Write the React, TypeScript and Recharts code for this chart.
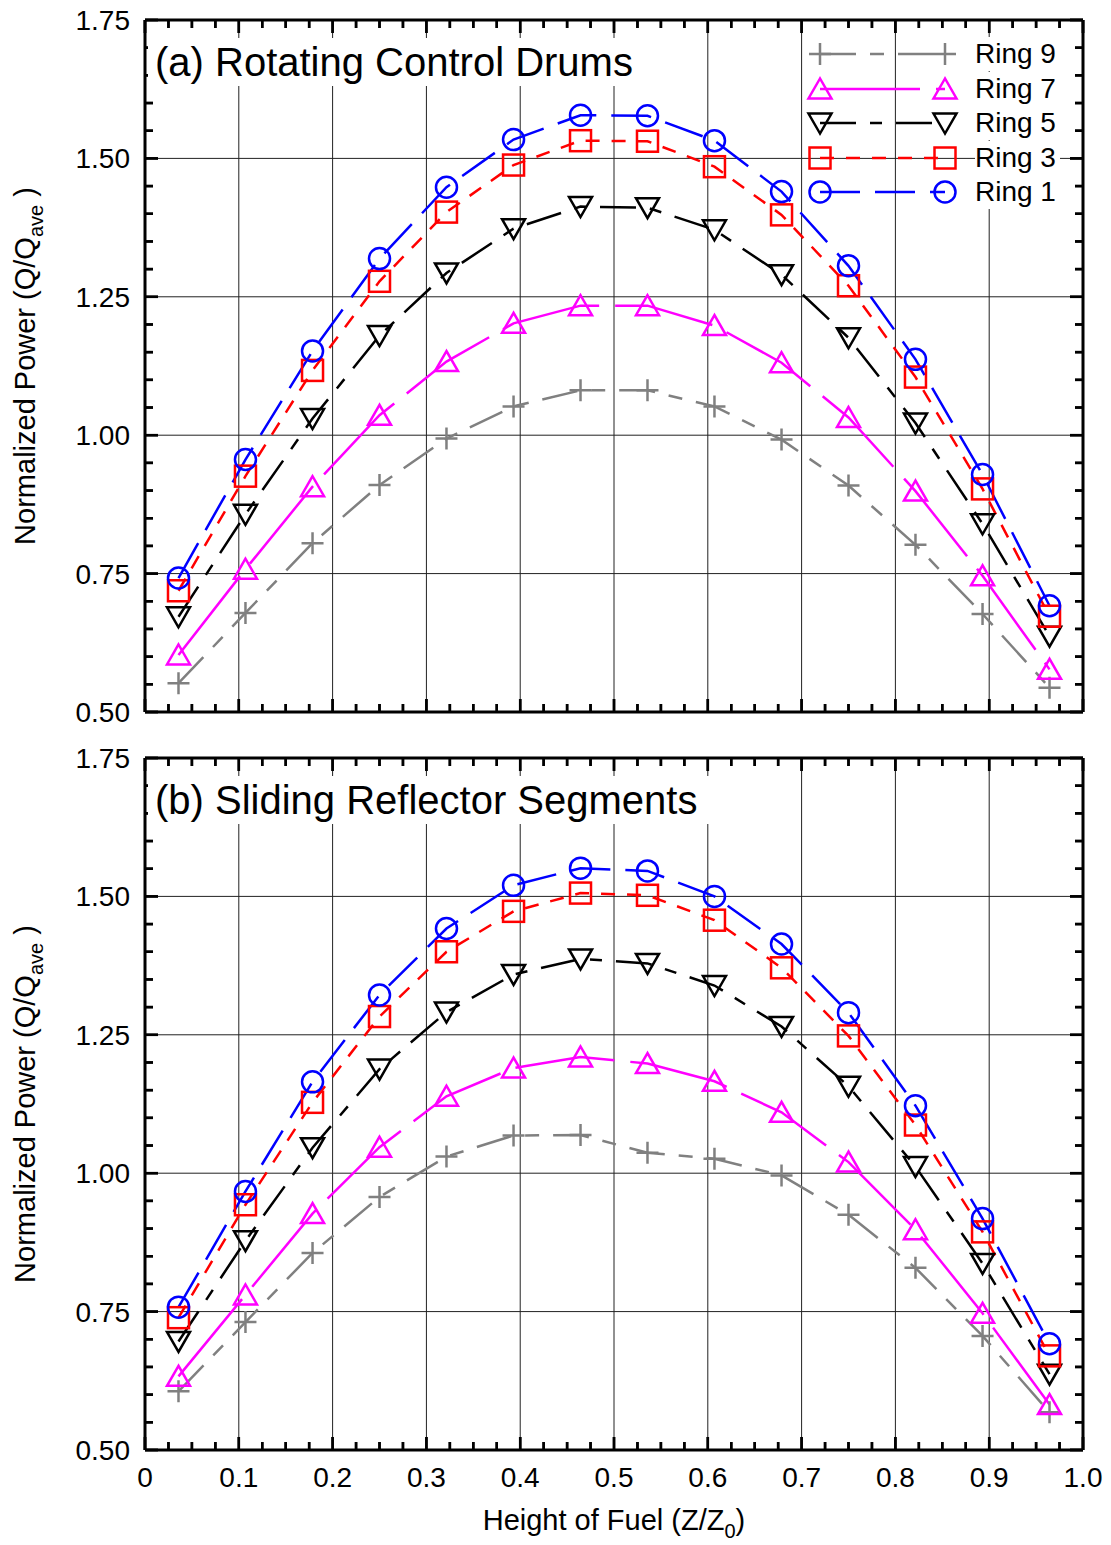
import React from 'react';
import { LineChart, Line, XAxis, YAxis, CartesianGrid, ReferenceLine } from 'recharts';

// ---------- data ----------
const HEIGHTS = [0.0357, 0.1071, 0.1786, 0.25, 0.3214, 0.3929, 0.4643, 0.5357, 0.6071, 0.6786, 0.75, 0.8214, 0.8929, 0.9643];

// (a) Rotating Control Drums
const DRUM_RING1 = [0.742, 0.956, 1.152, 1.319, 1.448, 1.534, 1.578, 1.577, 1.532, 1.440, 1.306, 1.137, 0.929, 0.692];
const DRUM_RING3 = [0.719, 0.926, 1.117, 1.278, 1.403, 1.488, 1.532, 1.531, 1.485, 1.398, 1.270, 1.105, 0.903, 0.673];
const DRUM_RING5 = [0.672, 0.857, 1.030, 1.180, 1.293, 1.373, 1.413, 1.411, 1.371, 1.290, 1.176, 1.022, 0.840, 0.637];
const DRUM_RING7 = [0.603, 0.758, 0.907, 1.036, 1.133, 1.202, 1.234, 1.234, 1.198, 1.131, 1.032, 0.899, 0.746, 0.577];
const DRUM_RING9 = [0.552, 0.679, 0.805, 0.910, 0.994, 1.052, 1.081, 1.081, 1.052, 0.992, 0.909, 0.802, 0.677, 0.544];

// (b) Sliding Reflector Segments
const SLIDE_RING1 = [0.758, 0.967, 1.165, 1.322, 1.442, 1.520, 1.551, 1.546, 1.500, 1.414, 1.290, 1.122, 0.918, 0.692];
const SLIDE_RING3 = [0.739, 0.943, 1.128, 1.283, 1.400, 1.473, 1.506, 1.502, 1.457, 1.371, 1.248, 1.087, 0.894, 0.670];
const SLIDE_RING5 = [0.696, 0.878, 1.046, 1.188, 1.291, 1.359, 1.387, 1.379, 1.339, 1.265, 1.157, 1.012, 0.837, 0.637];
const SLIDE_RING7 = [0.633, 0.780, 0.927, 1.047, 1.139, 1.190, 1.210, 1.198, 1.166, 1.110, 1.020, 0.898, 0.747, 0.582];
const SLIDE_RING9 = [0.606, 0.731, 0.856, 0.957, 1.030, 1.068, 1.069, 1.037, 1.026, 0.996, 0.925, 0.829, 0.706, 0.568];

// ticks
const X_TICKS = [0, 0.1, 0.2, 0.3, 0.4, 0.5, 0.6, 0.7, 0.8, 0.9, 1.0];
const X_TICK_LABELS = ['0', '0.1', '0.2', '0.3', '0.4', '0.5', '0.6', '0.7', '0.8', '0.9', '1.0'];
const Y_TICKS = [0.5, 0.75, 1.0, 1.25, 1.5, 1.75];
const Y_TICK_LABELS = ['0.50', '0.75', '1.00', '1.25', '1.50', '1.75'];
const X_MINOR = Array.from({ length: 41 }, (_, i) => Math.round(i * 25) / 1000);
const Y_MINOR = Array.from({ length: 26 }, (_, i) => Math.round(500 + i * 50) / 1000);

const PANEL_A_TITLE = '(a) Rotating Control Drums';
const PANEL_B_TITLE = '(b) Sliding Reflector Segments';

const SERIES = [
  { key: 'r9', name: 'Ring 9', color: '#808080', dash: '36 14 14 14', shape: 'plus' },
  { key: 'r7', name: 'Ring 7', color: '#ff00ff', dash: '100 16', shape: 'up' },
  { key: 'r5', name: 'Ring 5', color: '#000000', dash: '36 14 12 14', shape: 'down' },
  { key: 'r3', name: 'Ring 3', color: '#ff0000', dash: '14 12', shape: 'square' },
  { key: 'r1', name: 'Ring 1', color: '#0000ff', dash: '40 15', shape: 'circle' },
];

const buildRows = (r1: number[], r3: number[], r5: number[], r7: number[], r9: number[]) =>
  HEIGHTS.map((x, i) => ({ x, r1: r1[i], r3: r3[i], r5: r5[i], r7: r7[i], r9: r9[i] }));

const DATA_A = buildRows(DRUM_RING1, DRUM_RING3, DRUM_RING5, DRUM_RING7, DRUM_RING9);
const DATA_B = buildRows(SLIDE_RING1, SLIDE_RING3, SLIDE_RING5, SLIDE_RING7, SLIDE_RING9);

const X_DOMAIN = [0, 1];
const Y_DOMAIN = [0.5, 1.75];

const FONT = '"Liberation Sans", Arial, Helvetica, sans-serif';
const THIN = 0.01; // axis box size (must be > 0 for the axis to render)
const CHART_W = 1111;
const M_LEFT = 145;
const M_RIGHT = 28;
const X_MARGIN = 17; // gap axis -> x labels
const Y_MARGIN = 15; // gap axis -> y labels
const MAJOR_LEN = 13;
const MINOR_LEN = 8;
const TICK_W = 2.5;

const isIn = (arr: number[], v: number) => arr.findIndex((t) => Math.abs(t - v) < 1e-9);

// ---------- markers ----------
function MarkerShape({ cx, cy, shape, color }: { cx: number; cy: number; shape: string; color: string }) {
  const common = { fill: 'none', stroke: color, strokeWidth: 2.5 };
  switch (shape) {
    case 'circle':
      return <circle cx={cx} cy={cy} r={10.5} {...common} />;
    case 'square':
      return <rect x={cx - 10.5} y={cy - 10.5} width={21} height={21} {...common} />;
    case 'up':
      return <polygon points={`${cx},${cy - 10.5} ${cx - 11.5},${cy + 9.5} ${cx + 11.5},${cy + 9.5}`} {...common} />;
    case 'down':
      return <polygon points={`${cx},${cy + 10.5} ${cx - 11.5},${cy - 9.5} ${cx + 11.5},${cy - 9.5}`} {...common} />;
    default:
      return <path d={`M${cx - 11},${cy}H${cx + 11}M${cx},${cy - 11}V${cy + 11}`} {...common} />;
  }
}

const YTitle = (props: any) => {
  const vb = props.viewBox || { x: 145, y: 20, width: 0, height: 692 };
  const cx = Number(vb.x) - 110;
  const cy = Number(vb.y) + Number(vb.height) / 2;
  return (
    <text x={cx} y={cy} transform={`rotate(-90 ${cx} ${cy})`} textAnchor="middle" fontSize={29} fontFamily={FONT} fill="#000">
      Normalized Power (Q/Q
      <tspan fontSize={20} dy={8}>ave</tspan>
      <tspan dy={-8}> )</tspan>
    </text>
  );
};

const XTitle = (props: any) => {
  const vb = props.viewBox || { x: 145, y: 734, width: 938, height: 0 };
  const cx = Number(vb.x) + Number(vb.width) / 2;
  const cy = Number(vb.y) + 80;
  return (
    <text x={cx} y={cy} textAnchor="middle" fontSize={29} fontFamily={FONT} fill="#000">
      Height of Fuel (Z/Z
      <tspan fontSize={20} dy={8}>0</tspan>
      <tspan dy={-8}>)</tspan>
    </text>
  );
};

const frameLine = { stroke: '#000', strokeWidth: 3 };

// x tick: inward marks on bottom and top edges + label for major ticks
function makeXTick(plotH: number, showLabels: boolean) {
  return (p: any) => {
    const v = Number(p.payload?.value);
    const x = Number(p.x);
    const y = Number(p.y);
    const mi = isIn(X_TICKS, v);
    const len = mi >= 0 ? MAJOR_LEN : MINOR_LEN;
    const y0 = y - X_MARGIN;
    const yTop = y0 - plotH;
    return (
      <g>
        <line x1={x} y1={y0} x2={x} y2={y0 - len} stroke="#000" strokeWidth={TICK_W} />
        <line x1={x} y1={yTop} x2={x} y2={yTop + len} stroke="#000" strokeWidth={TICK_W} />
        {showLabels && mi >= 0 ? (
          <text x={x} y={y} dy="0.71em" textAnchor="middle" fontSize={28} fontFamily={FONT} fill="#000">
            {X_TICK_LABELS[mi]}
          </text>
        ) : null}
      </g>
    );
  };
}

// y tick: inward marks on left and right edges + label for major ticks
function makeYTick(plotW: number) {
  return (p: any) => {
    const v = Number(p.payload?.value);
    const x = Number(p.x);
    const y = Number(p.y);
    const mi = isIn(Y_TICKS, v);
    const len = mi >= 0 ? MAJOR_LEN : MINOR_LEN;
    const x0 = x + Y_MARGIN;
    const xR = x0 + plotW;
    return (
      <g>
        <line x1={x0} y1={y} x2={x0 + len} y2={y} stroke="#000" strokeWidth={TICK_W} />
        <line x1={xR} y1={y} x2={xR - len} y2={y} stroke="#000" strokeWidth={TICK_W} />
        {mi >= 0 ? (
          <text x={x} y={y} dy="0.355em" textAnchor="end" fontSize={28} fontFamily={FONT} fill="#000">
            {Y_TICK_LABELS[mi]}
          </text>
        ) : null}
      </g>
    );
  };
}

function Panel({ data, height, marginTop, marginBottom, showXLabels }: any) {
  const plotH = height - marginTop - marginBottom - THIN;
  const plotW = CHART_W - M_LEFT - M_RIGHT - THIN;
  // tick lengths converted to data units (for reference-line tick marks)
  const xPerPx = (X_DOMAIN[1] - X_DOMAIN[0]) / plotW;
  const yPerPx = (Y_DOMAIN[1] - Y_DOMAIN[0]) / plotH;
  const xTickSegs = X_MINOR.flatMap((v) => {
    const len = (isIn(X_TICKS, v) >= 0 ? MAJOR_LEN : MINOR_LEN) * yPerPx;
    return [
      [{ x: v, y: Y_DOMAIN[0] }, { x: v, y: Y_DOMAIN[0] + len }],
      [{ x: v, y: Y_DOMAIN[1] }, { x: v, y: Y_DOMAIN[1] - len }],
    ];
  });
  const yTickSegs = Y_MINOR.flatMap((v) => {
    const len = (isIn(Y_TICKS, v) >= 0 ? MAJOR_LEN : MINOR_LEN) * xPerPx;
    return [
      [{ x: X_DOMAIN[0], y: v }, { x: X_DOMAIN[0] + len, y: v }],
      [{ x: X_DOMAIN[1], y: v }, { x: X_DOMAIN[1] - len, y: v }],
    ];
  });
  return (
    <LineChart width={CHART_W} height={height} data={data} margin={{ top: marginTop, right: M_RIGHT, bottom: marginBottom, left: M_LEFT }}>
      <CartesianGrid stroke="#222" strokeWidth={1} verticalValues={X_TICKS} horizontalValues={Y_TICKS} />
      <XAxis xAxisId={0} type="number" dataKey="x" domain={X_DOMAIN} ticks={X_MINOR} interval={0} height={THIN}
        axisLine={frameLine} tickLine={false} tickSize={0} tickMargin={X_MARGIN}
        tick={makeXTick(plotH, showXLabels)}
        label={showXLabels ? { content: XTitle } : undefined}
        allowDataOverflow />
      <YAxis yAxisId={0} type="number" domain={Y_DOMAIN} ticks={Y_MINOR} interval={0} width={THIN}
        axisLine={frameLine} tickLine={false} tickSize={0} tickMargin={Y_MARGIN}
        tick={makeYTick(plotW)}
        label={{ content: YTitle }}
        allowDataOverflow />
      {xTickSegs.map((seg, i) => (
        <ReferenceLine key={`xt${i}`} segment={seg} stroke="#000" strokeWidth={TICK_W} ifOverflow="visible" />
      ))}
      {yTickSegs.map((seg, i) => (
        <ReferenceLine key={`yt${i}`} segment={seg} stroke="#000" strokeWidth={TICK_W} ifOverflow="visible" />
      ))}
      <ReferenceLine y={Y_DOMAIN[1]} stroke="#000" strokeWidth={3} ifOverflow="visible" />
      <ReferenceLine x={X_DOMAIN[1]} stroke="#000" strokeWidth={3} ifOverflow="visible" />
      {SERIES.map((s) => (
        <Line key={s.key} xAxisId={0} yAxisId={0} type="linear" dataKey={s.key} name={s.name}
          stroke={s.color} strokeWidth={2.5} strokeDasharray={s.dash}
          dot={(p: any) => <MarkerShape key={`${s.key}-${p.index}`} cx={p.cx} cy={p.cy} shape={s.shape} color={s.color} />}
          activeDot={false} isAnimationActive={false} />
      ))}
    </LineChart>
  );
}

function LegendOverlay() {
  return (
    <div style={{ position: 'absolute', left: 805, top: 37, width: 270 }}>
      {SERIES.map((s) => (
        <div key={s.key} style={{ display: 'flex', alignItems: 'center', height: 34.5 }}>
          <svg width={170} height={34} style={{ display: 'block' }}>
            <line x1={15} y1={17} x2={140} y2={17} stroke={s.color} strokeWidth={2.5} strokeDasharray={s.dash} />
            <MarkerShape cx={15} cy={17} shape={s.shape} color={s.color} />
            <MarkerShape cx={140} cy={17} shape={s.shape} color={s.color} />
          </svg>
          <span style={{ fontFamily: FONT, fontSize: 28, color: '#000', lineHeight: '34px', background: '#fff', paddingRight: 4 }}>{s.name}</span>
        </div>
      ))}
    </div>
  );
}

function Title({ text, top, width }: { text: string; top: number; width: number }) {
  return (
    <div style={{ position: 'absolute', left: 148, top, width, height: 48, background: '#fff', fontFamily: FONT, fontSize: 40, lineHeight: '48px', paddingLeft: 7, boxSizing: 'border-box', whiteSpace: 'nowrap', color: '#000' }}>
      {text}
    </div>
  );
}

export default function App() {
  return (
    <div style={{ position: 'absolute', left: 0, top: 0, width: 1111, height: 1545, background: '#fff', overflow: 'hidden' }}>
      <div style={{ position: 'absolute', left: 0, top: 730, width: 1111, height: 815, overflow: 'hidden' }}>
        <Panel data={DATA_B} height={815} marginTop={28} marginBottom={95} showXLabels={true} />
      </div>
      <div style={{ position: 'absolute', left: 0, top: 0, width: 1111, height: 730, overflow: 'hidden' }}>
        <Panel data={DATA_A} height={730} marginTop={20} marginBottom={18} showXLabels={false} />
      </div>
      <Title text={PANEL_A_TITLE} top={38} width={502} />
      <Title text={PANEL_B_TITLE} top={776} width={567} />
      <LegendOverlay />
    </div>
  );
}
